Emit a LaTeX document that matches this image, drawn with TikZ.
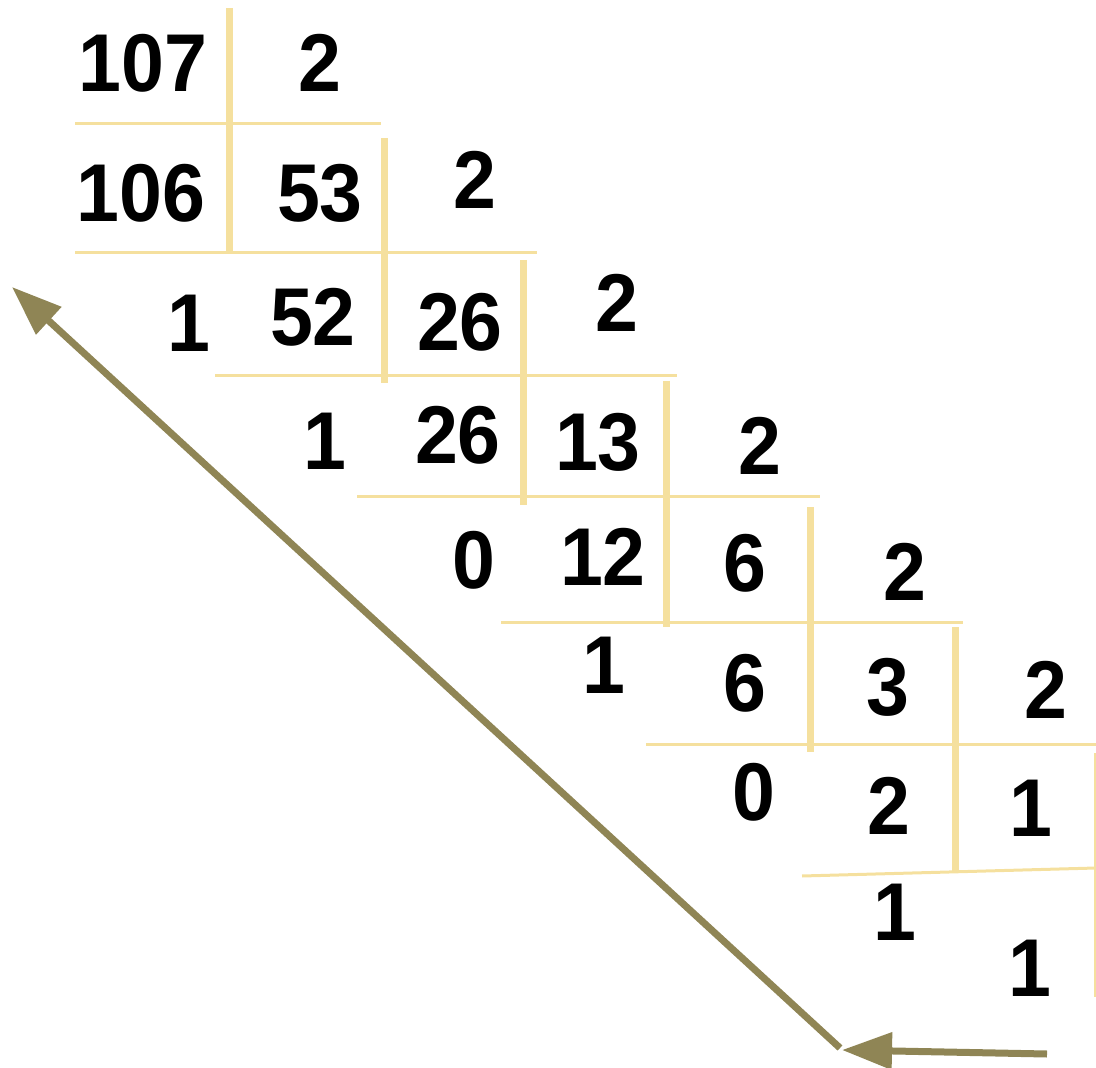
\documentclass[tikz,border=0pt]{standalone}
\usepackage{fontspec}
\setmainfont{Liberation Sans}
\newfontfamily\numfont{Liberation Sans}[FakeStretch=0.94]
\usepackage{xcolor}
\usepackage{tikz}
\usetikzlibrary{arrows.meta}

\definecolor{barcol}{HTML}{F5E09E}
\definecolor{arrcol}{HTML}{8F8555}

\begin{document}
\begin{tikzpicture}[x=0.5pt, y=-0.5pt,
    num/.style={inner sep=0pt, font=\numfont\fontsize{41}{49}\selectfont\bfseries},
    vbar/.style={draw=barcol, line width=3.5pt},
    hbar/.style={draw=barcol, line width=1.5pt},
    back/.style={draw=arrcol, line width=3.5pt, -{Triangle[length=25pt, width=18pt]}}]
    \useasboundingbox (0,0) rectangle (1096,1068);

    % division bars
    \draw[vbar] (229,8) -- (229,253);
    \draw[vbar] (384,138) -- (384,383);
    \draw[vbar] (523,260) -- (523,505);
    \draw[vbar] (666,381) -- (666,627);
    \draw[vbar] (810,507) -- (810,752);
    \draw[vbar] (955,627) -- (955,871);
    \draw[draw=barcol, line width=0.6pt] (1095,753) -- (1095,997);

    \draw[hbar] (75,124) -- (381,124);
    \draw[hbar] (75,253) -- (537,253);
    \draw[hbar] (215,376) -- (677,376);
    \draw[hbar] (357,497) -- (820,497);
    \draw[hbar] (501,622) -- (963,622);
    \draw[hbar] (646,744) -- (1096,744);
    \draw[hbar] (802,876) -- (1096,868);

    % numbers
    \node[num] (n107) at (143,63) {107};
    \node[num] (d1) at (320,63) {2};
    \node[num] (p106) at (141,193) {106};
    \node[num] (q53) at (320,193) {53};
    \node[num] (d2) at (475,180) {2};
    \node[num] (r1) at (189,323) {1};
    \node[num] (p52) at (313,317) {52};
    \node[num] (q26) at (460,322) {26};
    \node[num] (d3) at (617,303) {2};
    \node[num] (r2) at (325,441) {1};
    \node[num] (p26) at (458,435) {26};
    \node[num] (q13) at (598,442) {13};
    \node[num] (d4) at (760,446) {2};
    \node[num] (r3) at (474,560) {0};
    \node[num] (p12) at (603,557) {12};
    \node[num] (q6) at (745,563) {6};
    \node[num] (d5) at (905,572) {2};
    \node[num] (r4) at (604,665) {1};
    \node[num] (p6) at (745,683) {6};
    \node[num] (q3) at (888,687) {3};
    \node[num] (d6) at (1046,690) {2};
    \node[num] (r5) at (754,792) {0};
    \node[num] (p2) at (889,806) {2};
    \node[num] (q1) at (1031,808) {1};
    \node[num] (r6) at (895,912) {1};
    \node[num] (last) at (1030,968) {1};

    % reading direction
    \coordinate (start) at (1047,1054);
    \coordinate (turn) at (842,1050);
    \coordinate (bend) at (840,1048);
    \coordinate (top) at (12,287);
    \draw[back] (start) -- (turn);
    \draw[back] (bend) -- (top);
\end{tikzpicture}
\end{document}
